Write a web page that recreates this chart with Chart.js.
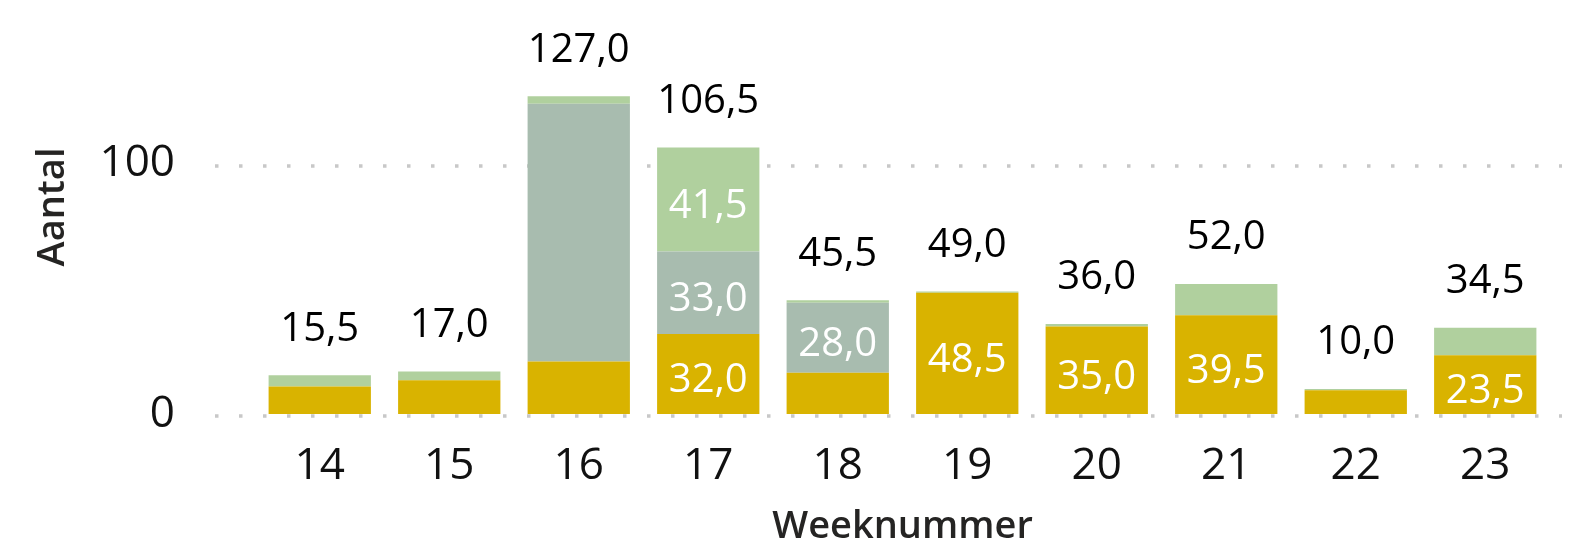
<!DOCTYPE html>
<html>
<head>
<meta charset="utf-8">
<script src="https://cdn.jsdelivr.net/npm/chart.js@4"></script>
<style>
  html, body { margin: 0; padding: 0; background: #fff; }
  #wrap { width: 1573px; height: 551px; position: relative; }
</style>
</head>
<body>
<div id="wrap"><canvas id="chart" width="1573" height="551"></canvas></div>
<script>
// week numbers and the three stacked series
const weeks = ['14', '15', '16', '17', '18', '19', '20', '21', '22', '23'];
const goldValues = [11.0, 13.5, 21.0, 32.0, 16.5, 48.5, 35.0, 39.5, 9.5, 23.5];
const greyValues = [0, 0, 103.0, 33.0, 28.0, 0, 0, 0, 0, 0];
const greenValues = [4.5, 3.5, 3.0, 41.5, 1.0, 0.5, 1.0, 12.5, 0.5, 11.0];
const yTicks = [0, 100];

const fontFamily = '"Open Sans", "Noto Sans", sans-serif';

function fmt(v) {
    return v.toFixed(1).replace('.', ',');
}

// dotted horizontal gridlines that run a bit past the bars, like the original
const dottedGrid = {
    id: 'dottedGrid',
    beforeDatasetsDraw(chart) {
        const ctx = chart.ctx;
        const y = chart.scales.y;
        const area = chart.chartArea;
        ctx.save();
        ctx.strokeStyle = '#c8c8c8';
        ctx.lineWidth = 3.5;
        ctx.setLineDash([3.5, 20.5]);
        yTicks.forEach(t => {
            const py = Math.round(y.getPixelForValue(t)) + 2;
            ctx.beginPath();
            ctx.moveTo(area.left - 40, py);
            ctx.lineTo(area.right + 12, py);
            ctx.stroke();
        });
        ctx.restore();
    }
};

// segment labels inside the bars and totals above
const barLabels = {
    id: 'barLabels',
    afterDatasetsDraw(chart) {
        const ctx = chart.ctx;
        const y = chart.scales.y;
        ctx.save();
        ctx.textAlign = 'center';
        ctx.textBaseline = 'middle';
        ctx.font = '40px ' + fontFamily;

        chart.data.datasets.forEach((ds, di) => {
            const meta = chart.getDatasetMeta(di);
            meta.data.forEach((bar, i) => {
                const v = ds.data[i];
                if (v < 22 || v >= 100) return;   // the original skips small ones and the tall week 16 block
                ctx.fillStyle = '#ffffff';
                ctx.fillText(fmt(v), bar.x, (bar.y + bar.base) / 2 + 7);
            });
        });

        const meta0 = chart.getDatasetMeta(0);
        weeks.forEach((w, i) => {
            const total = goldValues[i] + greyValues[i] + greenValues[i];
            const px = meta0.data[i].x;
            const py = y.getPixelForValue(total) - 46;
            ctx.fillStyle = '#000000';
            ctx.fillText(fmt(total), px, py);
        });
        ctx.restore();
    }
};

new Chart(document.getElementById('chart').getContext('2d'), {
    type: 'bar',
    data: {
        labels: weeks,
        datasets: [
            { label: 'a', data: goldValues, backgroundColor: '#d9b300' },
            { label: 'b', data: greyValues, backgroundColor: '#a8bcaf' },
            { label: 'c', data: greenValues, backgroundColor: '#b0d09e' }
        ]
    },
    options: {
        responsive: false,
        animation: false,
        devicePixelRatio: 1,
        layout: { padding: { left: 0, right: 23, top: 0, bottom: 0 } },
        datasets: { bar: { categoryPercentage: 1, barPercentage: 0.79, borderWidth: 0 } },
        plugins: { legend: { display: false }, tooltip: { enabled: false } },
        scales: {
            x: {
                stacked: true,
                grid: { display: false, drawTicks: false },
                border: { display: false },
                ticks: { color: '#111', font: { family: fontFamily, size: 44 }, padding: 26 },
                title: {
                    display: true, text: 'Weeknummer', color: '#252423',
                    font: { family: fontFamily, size: 38, weight: '600' },
                    padding: { top: 4, bottom: 1 }
                },
                afterFit(scale) { scale.height = 137; scale.paddingLeft = 0; scale.paddingRight = 0; }
            },
            y: {
                stacked: true,
                min: 0,
                max: 165.5,
                grid: { display: false, drawTicks: false },
                border: { display: false },
                afterBuildTicks(scale) { scale.ticks = yTicks.map(v => ({ value: v })); },
                ticks: { color: '#111', font: { family: fontFamily, size: 44 }, padding: 80 },
                title: {
                    display: true, text: 'Aantal', color: '#252423',
                    font: { family: fontFamily, size: 38, weight: '600' },
                    padding: { top: 30, bottom: 0 }
                },
                afterFit(scale) { scale.width = 255; scale.paddingTop = 0; scale.paddingBottom = 0; }
            }
        }
    },
    plugins: [dottedGrid, barLabels]
});
</script>
</body>
</html>
